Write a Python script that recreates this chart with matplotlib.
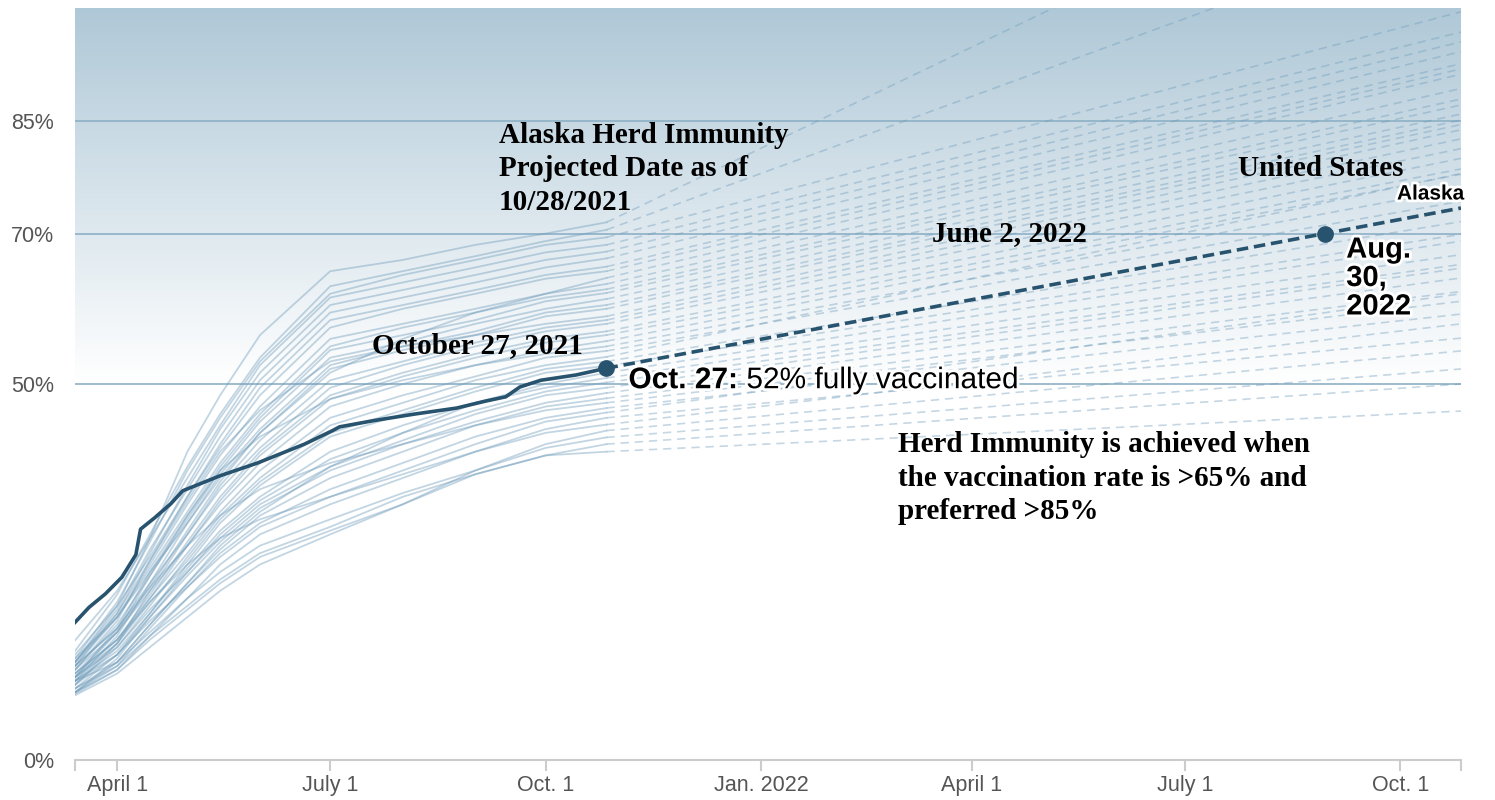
import numpy as np
import pandas as pd
import matplotlib
matplotlib.use("Agg")
import matplotlib.pyplot as plt
import matplotlib.patheffects as pe

# ---- data -------------------------------------------------------------
# dates at which each state's curve is read (observed part, up to Oct. 27)
knot_dates = pd.to_datetime(["2021-03-14", "2021-04-01", "2021-04-15", "2021-05-01",
                             "2021-05-15", "2021-06-01", "2021-07-01", "2021-08-01",
                             "2021-09-01", "2021-10-01", "2021-10-27"])
proj_end = pd.Timestamp("2022-10-27")

# % fully vaccinated, one row per state
state_values = [
    [13.0, 20.5, 29.5, 41.0, 48.5, 56.5, 65.0, 66.5, 68.5, 70.0, 71.5],
    [14.5, 22.0, 30.0, 39.0, 46.0, 53.5, 63.0, 65.0, 67.0, 69.0, 70.5],
    [13.5, 21.0, 29.0, 38.5, 45.5, 53.0, 62.0, 64.5, 66.5, 68.5, 69.5],
    [15.9, 22.5, 29.5, 37.5, 44.5, 52.5, 61.5, 63.5, 65.5, 67.5, 68.5],
    [12.5, 19.5, 27.5, 36.5, 44.0, 51.5, 60.5, 62.5, 64.5, 66.5, 67.6],
    [13.0, 20.0, 28.0, 36.0, 43.0, 50.5, 59.5, 61.5, 63.5, 65.5, 66.7],
    [12.0, 18.5, 26.5, 35.0, 42.0, 49.5, 58.5, 60.5, 62.5, 64.5, 65.6],
    [14.0, 20.5, 27.0, 35.0, 41.5, 48.5, 57.5, 60.0, 62.0, 64.0, 65.0],
    [11.5, 17.0, 23.0, 30.5, 37.0, 43.5, 51.5, 56.0, 59.5, 62.0, 64.1],
    [12.5, 19.0, 26.0, 34.0, 40.5, 47.0, 56.0, 58.0, 60.0, 62.0, 63.3],
    [13.0, 19.0, 25.5, 33.0, 39.5, 46.0, 55.0, 57.5, 59.5, 61.5, 62.6],
    [11.0, 17.0, 24.5, 32.5, 39.0, 45.5, 54.5, 56.5, 58.5, 61.0, 62.1],
    [12.0, 18.0, 24.5, 32.0, 38.5, 45.0, 53.5, 55.5, 58.0, 60.0, 61.3],
    [10.5, 16.5, 23.5, 31.5, 38.0, 44.0, 52.5, 55.0, 57.0, 59.5, 60.5],
    [13.5, 19.0, 25.0, 31.5, 37.5, 43.5, 52.0, 54.5, 56.5, 59.0, 60.0],
    [13.0, 19.5, 26.5, 34.5, 41.0, 46.5, 53.0, 55.0, 56.5, 58.0, 59.0],
    [10.0, 15.5, 22.5, 30.0, 36.5, 42.5, 50.5, 53.0, 55.5, 57.5, 58.5],
    [12.5, 17.5, 23.5, 30.0, 36.0, 41.5, 49.5, 52.5, 55.0, 57.0, 58.0],
    [11.0, 16.0, 22.0, 29.0, 35.0, 41.0, 48.5, 51.5, 54.0, 56.0, 57.0],
    [10.5, 15.5, 21.5, 28.5, 34.5, 40.5, 48.0, 51.0, 53.5, 55.5, 56.5],
    [12.0, 17.0, 22.5, 28.5, 34.0, 39.5, 47.0, 50.0, 52.5, 54.5, 55.7],
    [11.0, 17.5, 25.0, 32.5, 38.5, 43.0, 48.0, 50.5, 52.5, 54.0, 55.0],
    [11.5, 16.0, 21.5, 27.5, 33.0, 38.5, 45.5, 48.5, 51.0, 53.5, 54.4],
    [10.0, 15.0, 20.5, 27.0, 32.5, 37.5, 44.5, 47.5, 50.5, 52.5, 53.6],
    [11.0, 15.5, 21.0, 26.5, 32.0, 37.0, 43.5, 46.5, 49.5, 52.0, 53.0],
    [9.5, 14.0, 19.5, 26.0, 31.5, 36.5, 43.0, 46.0, 49.0, 51.5, 52.4],
    [9.0, 13.0, 18.0, 23.5, 28.5, 33.0, 39.0, 43.5, 47.5, 50.0, 51.5],
    [10.5, 14.5, 19.5, 25.5, 30.5, 35.0, 41.0, 44.5, 47.5, 49.5, 50.8],
    [9.0, 13.5, 19.0, 25.0, 30.0, 34.5, 40.0, 43.5, 46.5, 49.0, 50.2],
    [11.0, 15.0, 20.0, 25.0, 29.5, 34.0, 39.0, 42.5, 46.0, 48.5, 49.5],
    [10.0, 14.0, 19.0, 24.5, 29.0, 33.5, 38.5, 42.0, 45.0, 47.5, 48.8],
    [9.5, 13.0, 18.0, 23.5, 28.0, 32.5, 37.5, 41.0, 44.5, 47.0, 48.1],
    [12.5, 17.5, 23.0, 28.5, 32.5, 36.0, 39.5, 42.0, 44.5, 46.5, 47.5],
    [9.0, 12.5, 17.5, 23.0, 27.5, 31.5, 36.0, 39.5, 43.0, 45.5, 46.8],
    [10.5, 14.0, 18.5, 23.0, 27.0, 31.0, 35.0, 38.5, 42.0, 45.0, 46.2],
    [8.8, 12.0, 16.5, 21.5, 26.0, 30.0, 34.0, 37.5, 41.0, 44.0, 45.5],
    [11.5, 16.0, 21.0, 26.0, 29.5, 32.0, 35.0, 38.0, 41.0, 43.5, 44.6],
    [9.0, 12.0, 16.0, 20.0, 23.5, 27.0, 30.5, 34.0, 38.5, 42.0, 43.8],
    [10.5, 13.0, 17.0, 21.5, 25.0, 28.5, 32.0, 35.5, 38.5, 41.5, 42.9],
    [9.5, 12.5, 16.5, 20.5, 24.0, 27.5, 31.0, 35.0, 38.0, 40.5, 42.0],
    [8.6, 11.5, 15.0, 19.0, 22.5, 26.0, 30.0, 34.0, 38.0, 40.5, 41.0],
]
# projected % at proj_end for each state (straight dashed line from Oct. 27)
state_proj_end = [126, 112, 99.5, 96.8, 95.5, 94.2, 92.6, 91.9, 91.2, 89.3,
                  87.9, 87.1, 85.9, 85.1, 84.5, 83.8, 82.6, 81.3, 80.0, 78.6,
                  77.9, 76.0, 74.3, 78.0, 71.6, 69.9, 69.0, 67.2, 65.9, 65.4,
                  64.1, 62.3, 61.0, 59.3, 62.0, 56.1, 58.0, 54.4, 52.0, 50.0, 46.4]

alaska_dates = pd.to_datetime(["2021-03-14", "2021-03-20", "2021-03-27", "2021-04-03",
                               "2021-04-09", "2021-04-11", "2021-04-17", "2021-04-24",
                               "2021-04-29", "2021-05-15", "2021-05-31", "2021-06-20",
                               "2021-07-02", "2021-07-05", "2021-07-19", "2021-08-06",
                               "2021-08-24", "2021-09-05", "2021-09-14", "2021-09-20",
                               "2021-09-29", "2021-10-14", "2021-10-27"])
alaska_values = [18.3, 20.3, 22.1, 24.3, 27.3, 30.7, 32.2, 34.1, 35.8, 37.8, 39.5, 42.0,
                 43.8, 44.3, 45.1, 46.0, 46.8, 47.7, 48.3, 49.6, 50.5, 51.2, 52.1]
alaska_proj_end = 73.4
alaska_target_date = pd.Timestamp("2022-08-30")
alaska_target = 70.0

ytick_vals = [0, 50, 70, 85]
ytick_labels = ["0%", "50%", "70%", "85%"]
xtick_dates = pd.to_datetime(["2021-04-01", "2021-07-01", "2021-10-01", "2022-01-01",
                              "2022-04-01", "2022-07-01", "2022-10-01"])
xtick_labels = ["April 1", "July 1", "Oct. 1", "Jan. 2022", "April 1", "July 1", "Oct. 1"]

# ---- style ------------------------------------------------------------
dark = "#28536e"
light = "#6f9cbb"
grid_c = "#8db0c6"
serif = ["Liberation Serif", "DejaVu Serif"]
plt.rcParams["font.family"] = ["Liberation Sans", "DejaVu Sans"]

fig = plt.figure(figsize=(14.95, 8), dpi=100)
ax = fig.add_axes([75 / 1495, 40 / 800, 1386 / 1495, 752 / 800])

x0 = pd.Timestamp("2021-03-14")
x1 = pd.Timestamp("2022-10-27")

# gradient background above 50%
top_rgb = np.array([175, 200, 215]) / 255
frac = np.linspace(0, 1, 256)[:, None]
grad = top_rgb[None, :] * (1 - frac) + np.ones(3)[None, :] * frac
ax.imshow(grad[:, None, :], extent=[x0, x1, 50, 100], aspect="auto",
          origin="upper", zorder=0, interpolation="bilinear")
ax.set_xlim(x0, x1)
ax.set_ylim(0, 100)

for v in [50, 70, 85]:
    ax.axhline(v, color=grid_c, lw=1.2, zorder=1)

# states
for vals, pend in zip(state_values, state_proj_end):
    ax.plot(knot_dates, vals, color=light, lw=1.3, alpha=0.42, zorder=2,
            solid_joinstyle="round")
    ax.plot([knot_dates[-1], proj_end], [vals[-1], pend], color=light, lw=1.2,
            alpha=0.4, dashes=(5, 3.5), zorder=2)

# Alaska
ax.plot(alaska_dates, alaska_values, color=dark, lw=2.6, zorder=4,
        solid_joinstyle="round")
ax.plot([alaska_dates[-1], proj_end], [alaska_values[-1], alaska_proj_end],
        color=dark, lw=2.6, dashes=(3.2, 1.6), zorder=4)
ax.plot([alaska_dates[-1]], [alaska_values[-1]], "o", ms=11, color=dark, zorder=5)
ax.plot([alaska_target_date], [alaska_target], "o", ms=11, color=dark, zorder=5)

# axes
for s in ["top", "right", "left"]:
    ax.spines[s].set_visible(False)
ax.spines["bottom"].set_color("#cccccc")
ax.spines["bottom"].set_linewidth(1.5)
ax.set_yticks(ytick_vals)
ax.set_yticklabels(ytick_labels)
ax.tick_params(axis="y", length=0, pad=15, labelsize=15.5, labelcolor="#555555")
ax.set_xticks(xtick_dates)
ax.set_xticklabels(xtick_labels)
ax.set_xticks([x0, x1], minor=True)
ax.tick_params(axis="x", which="both", length=8, width=1.5, color="#cccccc",
               pad=3, labelsize=15.5, labelcolor="#555555")

halo = [pe.withStroke(linewidth=4, foreground="white")]


def px(x, y):
    # pixel position in the reference -> axes fraction
    return ((x - 75) / 1386, (760 - y) / 752)


serif_kw = dict(transform=ax.transAxes, family=serif, fontweight="bold",
                fontsize=21, va="center", ha="left", linespacing=1.29, zorder=6)
ax.text(*px(499, 169), "Alaska Herd Immunity\nProjected Date as of\n10/28/2021", **serif_kw)
ax.text(*px(372, 346), "October 27, 2021", **serif_kw)
ax.text(*px(932, 234), "June 2, 2022", **serif_kw)
ax.text(*px(1238, 168), "United States", **serif_kw)
ax.text(*px(898, 478), "Herd Immunity is achieved when\nthe vaccination rate is >65% and\npreferred >85%",
        **serif_kw)

ax.text(*px(1397, 194), "Alaska", transform=ax.transAxes, fontweight="bold",
        fontsize=15, va="center", ha="left", path_effects=halo, zorder=6)
ax.annotate("Aug.\n30,\n2022", xy=(alaska_target_date, alaska_target),
            xytext=(21, -2), textcoords="offset pixels", fontweight="bold",
            fontsize=21, va="top", ha="left", linespacing=1.02,
            path_effects=halo, zorder=6)

t1 = ax.annotate("Oct. 27:", xy=(alaska_dates[-1], alaska_values[-1]),
                 xytext=(22, -12), textcoords="offset pixels", fontweight="bold",
                 fontsize=21.5, va="center", ha="left", path_effects=halo, zorder=6)
fig.canvas.draw()
w = t1.get_window_extent().width
ax.annotate(" 52% fully vaccinated", xy=(alaska_dates[-1], alaska_values[-1]),
            xytext=(22 + w, -12), textcoords="offset pixels", fontsize=21.5,
            va="center", ha="left", path_effects=halo, zorder=6)

fig.savefig("out.png", dpi=100)
